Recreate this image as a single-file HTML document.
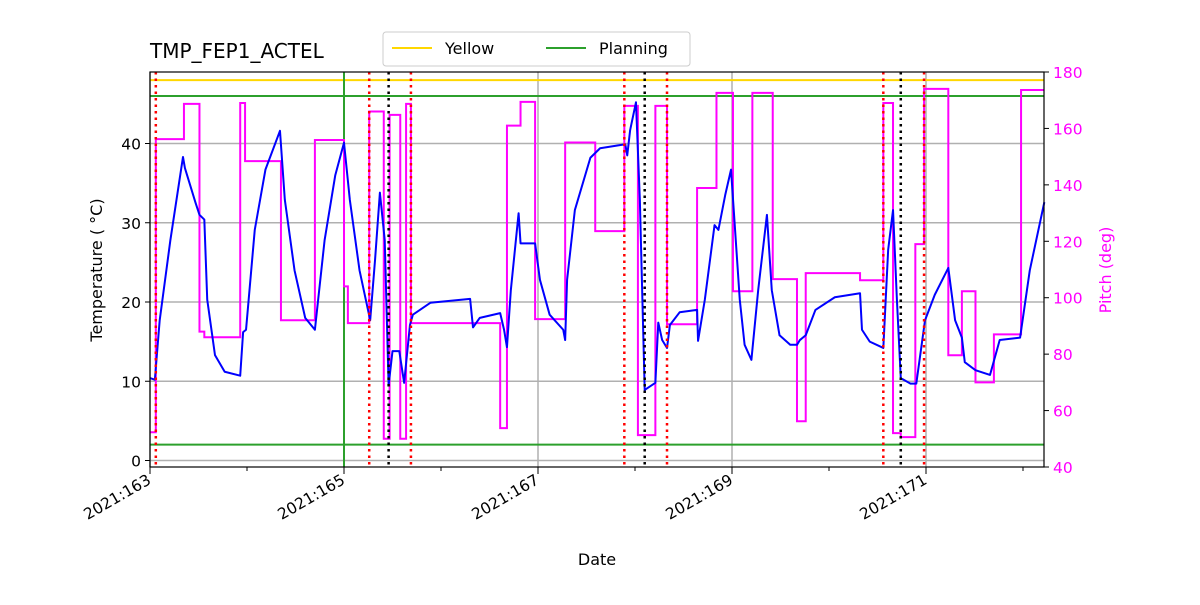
<!DOCTYPE html>
<html><head><meta charset="utf-8"><style>
body{margin:0;background:#fff;font-family:"Liberation Sans","DejaVu Sans",sans-serif;}
svg text{font-family:"DejaVu Sans","Liberation Sans",sans-serif;}
</style></head><body>
<svg id="chart" width="1200" height="600" xmlns="http://www.w3.org/2000/svg"></svg>
<script>
const tempDays=[163,163.05,163.10,163.21,163.34,163.36,163.47,163.51,163.56,163.59,163.67,163.77,163.93,163.96,163.99,164.08,164.19,164.34,164.39,164.49,164.60,164.70,164.80,164.91,165.0,165.06,165.16,165.27,165.32,165.37,165.42,165.46,165.50,165.57,165.62,165.68,165.71,165.89,166.30,166.33,166.40,166.61,166.65,166.68,166.72,166.80,166.82,166.97,167.02,167.12,167.26,167.28,167.30,167.38,167.54,167.64,167.90,167.92,167.95,168.01,168.05,168.10,168.21,168.24,168.28,168.33,168.36,168.46,168.64,168.65,168.72,168.82,168.86,168.93,168.99,169.08,169.13,169.20,169.27,169.36,169.41,169.49,169.60,169.67,169.70,169.76,169.86,170.06,170.32,170.34,170.42,170.56,170.61,170.66,170.70,170.74,170.84,170.90,170.99,171.09,171.23,171.30,171.37,171.40,171.51,171.66,171.76,171.97,172.07,172.22];
const tempVals=[10.4,10.2,17.7,27.8,38.3,36.9,32.5,31.0,30.4,20.3,13.3,11.2,10.7,16.2,16.5,29.1,36.7,41.6,32.9,24.0,18.0,16.5,27.8,36.0,40.1,32.9,24.0,17.7,25.3,33.8,27.8,9.5,13.8,13.8,9.8,17.1,18.4,19.9,20.4,16.8,18.0,18.6,16.5,14.3,21.5,31.2,27.4,27.4,22.8,18.4,16.5,15.2,22.8,31.6,38.2,39.4,39.9,38.5,41.7,45.2,32.9,8.9,9.8,17.4,15.2,14.2,17.1,18.7,19.0,15.1,20.3,29.7,29.1,33.5,36.7,20.3,14.6,12.7,21.5,31.0,21.5,15.8,14.6,14.6,15.2,15.8,19.0,20.6,21.1,16.5,15.0,14.2,26.6,31.6,20.3,10.4,9.7,9.7,17.7,20.9,24.3,17.7,15.5,12.4,11.4,10.8,15.2,15.5,24.0,32.6];
const pitchDays=[163,163.06,163.35,163.51,163.56,163.93,163.98,164.35,164.70,165.0,165.04,165.26,165.41,165.47,165.58,165.64,165.69,166.61,166.68,166.82,166.97,167.28,167.59,167.89,168.03,168.21,168.33,168.64,168.84,169.01,169.21,169.42,169.67,169.76,170.32,170.56,170.66,170.74,170.89,170.98,171.23,171.37,171.51,171.70,171.98,172.22];
const pitchVals=[52.3,156.2,168.7,88,86,169,148.4,92,155.9,104,91,166,50,164.8,50,168.7,91,53.8,161,169.4,92.4,155,123.6,168,51.3,168,90.6,138.9,172.6,102.3,172.6,106.6,56.2,108.7,106.2,169,52,50.6,119,174,79.6,102.3,70,87,173.6,173.6];
const redEvents=[163.06,165.26,165.69,167.89,168.33,170.56,170.98];
const blackEvents=[165.46,168.10,170.74];
const planningEvent=[165];
const xTicks=[163,165,167,169,171];
const tTicks=[0,10,20,30,40];
const pTicks=[40,60,80,100,120,140,160,180];
const limits={yellow:48,planHi:46,planLo:2};

const L=150,R=1044,T=72,B=467;
const x=d=>L+(d-163)*97;
const yT=v=>460.5-v*7.925;
const yP=v=>T+(180-v)*(B-T)/140;
const svg=document.getElementById('chart');
const NS='http://www.w3.org/2000/svg';
function mk(tag,attrs,parent){const e=document.createElementNS(NS,tag);for(const k in attrs)e.setAttribute(k,attrs[k]);(parent||svg).appendChild(e);return e;}

for(const d of xTicks){const e=mk('line',{x1:x(d),x2:x(d),y1:T,y2:B,stroke:'#b0b0b0','stroke-width':1.5});

}
for(const v of tTicks){const e=mk('line',{x1:L,x2:R,y1:yT(v),y2:yT(v),stroke:'#b0b0b0','stroke-width':1.5});

}
[[limits.yellow,'#ffd700','yellow-limit'],[limits.planHi,'#2ca02c','planning-limit-high'],[limits.planLo,'#2ca02c','planning-limit-low']].forEach(([v,c,n])=>{
const e=mk('line',{x1:L,x2:R,y1:yT(v),y2:yT(v),stroke:c,'stroke-width':2});

});
for(const d of planningEvent){const e=mk('line',{x1:x(d),x2:x(d),y1:T,y2:B,stroke:'#2ca02c','stroke-width':2});

}
let pp='',ppLast=0;
pitchDays.forEach((d,i)=>{const px=x(d),py=yP(pitchVals[i]);if(i===0)pp+=`M${px},${py} `;else pp+=`L${px},${ppLast} L${px},${py} `;ppLast=py;});
const pe=mk('path',{d:pp,fill:'none',stroke:'#ff00ff','stroke-width':2});


const tp=mk('polyline',{points:tempDays.map((d,i)=>x(d)+','+yT(tempVals[i])).join(' '),fill:'none',stroke:'#0000ff','stroke-width':2,'stroke-linejoin':'round'});


for(const d of redEvents){const e=mk('line',{x1:x(d),x2:x(d),y1:T,y2:B,stroke:'#ff0000','stroke-width':2.5,'stroke-dasharray':'2.5,4'});

}
for(const d of blackEvents){const e=mk('line',{x1:x(d),x2:x(d),y1:T,y2:B,stroke:'#000','stroke-width':2.5,'stroke-dasharray':'2.5,4'});

}
const fr=mk('rect',{x:L,y:T,width:R-L,height:B-T,fill:'none',stroke:'#000','stroke-width':1.2});


for(let d=163;d<=172;d++){mk('line',{x1:x(d),x2:x(d),y1:B,y2:B+(d%2?7:4),stroke:'#000'});}
for(const d of xTicks){const t=mk('text',{x:x(d)+2,y:B+16,'font-size':15.5,'text-anchor':'end',transform:`rotate(-30 ${x(d)+2} ${B+16})`});t.textContent='2021:'+d;

}
for(const v of tTicks){mk('line',{x1:L-5,x2:L,y1:yT(v),y2:yT(v),stroke:'#000'});
const t=mk('text',{x:L-9,y:yT(v)+6,'font-size':15.5,'text-anchor':'end'});t.textContent=v;

}
for(const v of pTicks){mk('line',{x1:R,x2:R+5,y1:yP(v),y2:yP(v),stroke:'#000'});
const t=mk('text',{x:R+9,y:yP(v)+6,'font-size':15.5,fill:'#ff00ff'});t.textContent=v;

}
</script>
<svg style="position:absolute;left:0;top:0" width="1200" height="600" xmlns="http://www.w3.org/2000/svg">
<text x="150" y="58" font-size="20">TMP_FEP1_ACTEL</text>
<text x="597" y="565" font-size="16" text-anchor="middle">Date</text>
<text x="102" y="270" font-size="16" text-anchor="middle" transform="rotate(-90 102 270)">Temperature ( °C)</text>
<text x="1111" y="270" font-size="16" fill="#ff00ff" text-anchor="middle" transform="rotate(-90 1111 270)">Pitch (deg)</text>
<g>
<rect x="383" y="32" width="307" height="34" rx="3" fill="#fff" stroke="#ccc"/>
<line x1="392" x2="432" y1="48" y2="48" stroke="#ffd700" stroke-width="2"/>
<text x="445" y="54" font-size="16">Yellow</text>
<line x1="546" x2="586" y1="48" y2="48" stroke="#2ca02c" stroke-width="2"/>
<text x="599" y="54" font-size="16">Planning</text>
</g>
</svg>
</body></html>
